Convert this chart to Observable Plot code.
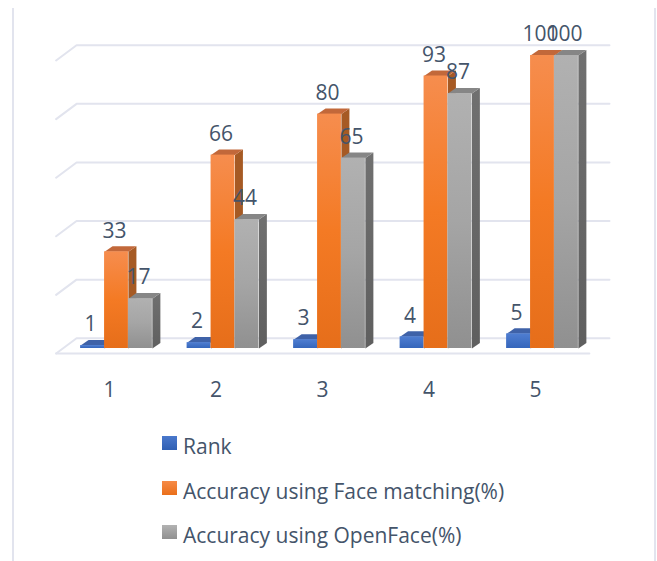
<!DOCTYPE html>
<html>
<head>
<meta charset="utf-8">
<script src="https://cdn.jsdelivr.net/npm/d3@7"></script>
<script src="https://cdn.jsdelivr.net/npm/@observablehq/plot@0.6"></script>
<style>
  html, body { margin: 0; padding: 0; background: #fff; }
  #page { position: relative; width: 657px; height: 561px; overflow: hidden; font-family: "Open Sans", sans-serif; color: #44546a; }
  #frame { position: absolute; left: 12px; top: 8px; width: 640px; height: 553px; border-left: 2px solid #e2e4ee; border-right: 2px solid #e2e4ee; }
  #chart { position: absolute; left: 0; top: 0; }
  #legend { position: absolute; left: 0; top: 420px; width: 657px; height: 141px; }
  .item { position: absolute; left: 162px; display: flex; align-items: center; font-size: 21px; line-height: 26px; white-space: nowrap; }
  .sw { width: 15px; height: 14px; margin-right: 6px; position: relative; top: -3px; }
</style>
</head>
<body>
<div id="page">
  <div id="frame"></div>
  <div id="chart"></div>
  <div id="legend"></div>
</div>
<script>
const categories = [1, 2, 3, 4, 5];
const rank = [1, 2, 3, 4, 5];
const faceMatching = [33, 66, 80, 93, 100];
const openFace = [17, 44, 65, 87, 100];
const gridValues = [0, 20, 40, 60, 80, 100];
const seriesNames = ["Rank", "Accuracy using Face matching(%)", "Accuracy using OpenFace(%)"];

const barEdges = [[-0.337, -0.112], [-0.112, 0.112], [0.112, 0.337]];
const depthX = 0.075, depthY = 1.9;
const wall = {frontX: 0.433, backX: 0.625, backEnd: 5.629, frontEnd: 5.44, frontY: -1.7, backY: 3.5};

const looks = [
  {id: "b", values: rank, top: "#3f62a8", side: "#2f5597", legend: "linear-gradient(#4a78cc,#2f5fb3)"},
  {id: "o", values: faceMatching, top: "#c2683a", side: "#a65a24", legend: "linear-gradient(#f68b47,#ea6f1a)"},
  {id: "g", values: openFace, top: "#868686", side: "url(#gSide)", legend: "linear-gradient(#b2b2b2,#909090)"}
];

const gridRows = gridValues.flatMap(v => [
  {k: v, x: wall.frontX, y: v + wall.frontY},
  {k: v, x: wall.backX, y: v + wall.backY},
  {k: v, x: wall.backEnd, y: v + wall.backY}
]);
const floorFront = [{x: wall.frontX, y: wall.frontY}, {x: wall.frontEnd, y: wall.frontY}];

function defs() {
  const svg = document.createElementNS("http://www.w3.org/2000/svg", "defs");
  svg.innerHTML = `
    <linearGradient id="bFront" x1="0" y1="0" x2="0" y2="1"><stop offset="0" stop-color="#4f7ed2"/><stop offset="1" stop-color="#3566bb"/></linearGradient>
    <linearGradient id="oFront" x1="0" y1="0" x2="0" y2="1"><stop offset="0" stop-color="#f68d4e"/><stop offset="0.5" stop-color="#f47a24"/><stop offset="1" stop-color="#e66e1a"/></linearGradient>
    <linearGradient id="gFront" x1="0" y1="0" x2="0" y2="1"><stop offset="0" stop-color="#b1b1b1"/><stop offset="0.5" stop-color="#a5a5a5"/><stop offset="1" stop-color="#909090"/></linearGradient>
    <linearGradient id="gSide" x1="0" y1="0" x2="0" y2="1"><stop offset="0" stop-color="#707070"/><stop offset="1" stop-color="#5f5f5f"/></linearGradient>`;
  return svg;
}

const barMarks = looks.flatMap((s, si) => {
  const [e1, e2] = barEdges[si];
  const rows = categories.map((c, i) => ({c, v: s.values[i], x1: c + e1, x2: c + e2}));
  const sides = rows.flatMap(r => [
    {c: r.c, x: r.x2, y: 0}, {c: r.c, x: r.x2 + depthX, y: depthY},
    {c: r.c, x: r.x2 + depthX, y: r.v + depthY}, {c: r.c, x: r.x2, y: r.v}
  ]);
  const tops = rows.flatMap(r => [
    {c: r.c, x: r.x1, y: r.v}, {c: r.c, x: r.x1 + depthX, y: r.v + depthY},
    {c: r.c, x: r.x2 + depthX, y: r.v + depthY}, {c: r.c, x: r.x2, y: r.v}
  ]);
  return [
    Plot.line(sides, {x: "x", y: "y", z: "c", fill: s.side, stroke: "none"}),
    Plot.line(tops, {x: "x", y: "y", z: "c", fill: s.top, stroke: "none"}),
    Plot.rectY(rows, {x1: "x1", x2: "x2", y1: 0, y2: "v", fill: `url(#${s.id}Front)`})
  ];
});

const labelMarks = looks.map((s, si) => {
  const mid = (barEdges[si][0] + barEdges[si][1]) / 2;
  return Plot.text(categories.map((c, i) => ({x: c + mid, v: s.values[i]})), {
    x: "x", y: "v", text: d => String(d.v), dy: -21, dx: -2, fontSize: 21, fill: "#44546a"
  });
});

const plot = Plot.plot({
  width: 657, height: 420,
  marginTop: 0, marginLeft: 0, marginRight: 0, marginBottom: 72,
  style: {background: "transparent", fontFamily: '"Open Sans", sans-serif', overflow: "visible"},
  x: {type: "linear", domain: [1, 5], range: [116, 542], axis: null},
  y: {type: "linear", domain: [0, 100], range: [348, 55], axis: null},
  marks: [
    defs,
    Plot.line(gridRows, {x: "x", y: "y", z: "k", stroke: "#e2e4ee", strokeWidth: 2}),
    Plot.line(floorFront, {x: "x", y: "y", stroke: "#e2e4ee", strokeWidth: 2}),
    ...barMarks,
    ...labelMarks,
    Plot.axisX(categories, {anchor: "bottom", tickSize: 0, tickPadding: 34, dx: -7, fontSize: 21, fill: "#44546a", tickFormat: d => String(d), label: null})
  ]
});
document.getElementById("chart").appendChild(plot);

const legendTops = [13, 58, 102];
const legend = document.getElementById("legend");
seriesNames.forEach((name, i) => {
  const item = document.createElement("div");
  item.className = "item";
  item.style.top = legendTops[i] + "px";
  const sw = document.createElement("span");
  sw.className = "sw";
  sw.style.background = looks[i].legend;
  const label = document.createElement("span");
  label.textContent = name;
  item.append(sw, label);
  legend.appendChild(item);
});
</script>
</body>
</html>
